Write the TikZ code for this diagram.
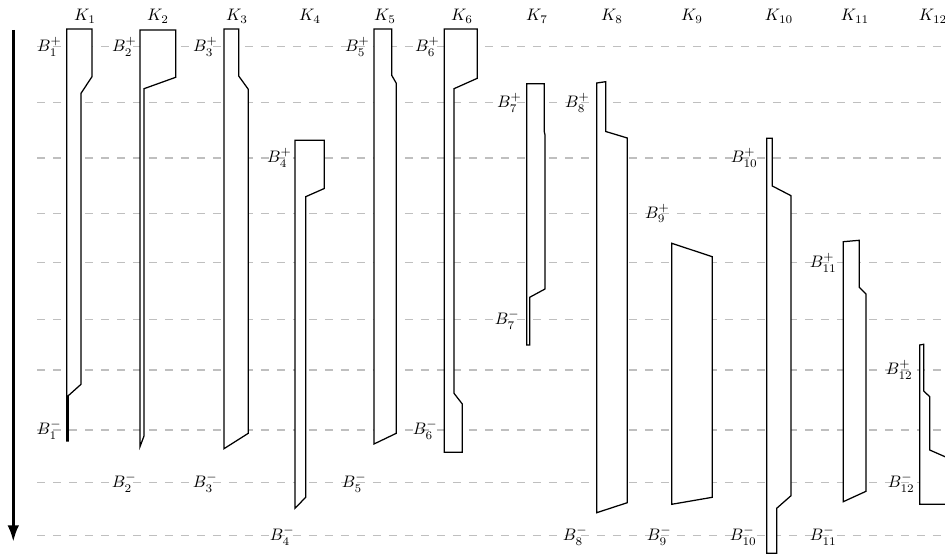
\documentclass[tikz,border=0pt]{standalone}
\usepackage{amsmath, amssymb}
\usetikzlibrary{arrows.meta}

\begin{document}
\begin{tikzpicture}[x=0.6pt, y=-0.6pt, >=Latex,
  level/.style={black!25, line width=0.9pt, dash pattern=on 5pt off 4.6pt},
  piece/.style={draw, fill=white, line width=0.75pt, line join=miter},
  blab/.style={anchor=east, inner sep=0pt}]
  \useasboundingbox (0,0) rectangle (945,554);
  % levels
  \foreach \y in {46.7,102.7,158,213.3,262.7,319.7,370,430,482.7,535.7}
    \draw[level] (37,\y) -- (965,\y);
  % time axis
  \coordinate (t0) at (13.3,30);
  \coordinate (t1) at (13.3,542);
  \draw[-{Latex[length=10pt,width=7pt]}, line width=1.8pt] (t0) -- (t1);
  % column heads
  \foreach \x [count=\i] in {85,158,237,310,385,462,537,612,692,779,855,933}
    \node[anchor=base] (K\i) at (\x,20.7) {$K_{\i}$};
  % pieces
  \draw[piece] (66.7,29) -- (92,29) -- (92,76.7) -- (81,93.3) -- (81,384.3) -- (68.3,395.7) -- (68.3,441) -- (66.7,441) -- cycle;
  \draw[piece] (140,30) -- (175.7,30) -- (175.7,77.3) -- (144,88.7) -- (144,436) -- (140,446.7) -- cycle;
  \draw[piece] (224,29) -- (238.7,29) -- (238.7,76) -- (248.3,89.3) -- (248.3,433.3) -- (224,448.7) -- cycle;
  \draw[piece] (295,140.3) -- (324.3,140.3) -- (324.3,188.5) -- (305.7,196.7) -- (305.7,497.3) -- (295,508.3) -- cycle;
  \draw[piece] (374,29) -- (391.7,29) -- (391.7,75.3) -- (396.3,83.3) -- (396.3,433.3) -- (374,444) -- cycle;
  \draw[piece] (444.3,29) -- (477.3,29) -- (477.3,78.3) -- (454,88.7) -- (454,393.3) -- (462.3,404) -- (462.3,452.3) -- (444.3,452.3) -- cycle;
  \draw[piece] (526.7,83.7) -- (544.3,83.7) -- (544.3,131.7) -- (545,135) -- (545,289) -- (529.7,297.3) -- (529.7,345) -- (526.7,345) -- cycle;
  \draw[piece] (596.7,83) -- (605.7,81.7) -- (605.7,131.5) -- (627.3,138) -- (627.3,502.7) -- (596.7,512.7) -- cycle;
  \draw[piece] (671.7,243.3) -- (712.3,256.7) -- (712.3,497.3) -- (671.7,504.3) -- cycle;
  \draw[piece] (766.7,138.3) -- (772.3,138.3) -- (772.3,186) -- (791,195.7) -- (791,495.7) -- (776.7,508.3) -- (776.7,553.3) -- (766.7,553.3) -- cycle;
  \draw[piece] (843.3,241.7) -- (859.3,240.3) -- (859.3,287.3) -- (866,294) -- (866,491.3) -- (843.3,501.7) -- cycle;
  \draw[piece] (919.7,345) -- (923.7,344.3) -- (923.7,391) -- (929.7,396.7) -- (929.7,450) -- (960,463.3) -- (960,504.3) -- (919.7,504.3) -- cycle;
  % bounds
  \node[blab] (B1p) at (62,46.7) {$B_1^+$};
  \node[blab] (B2p) at (137,46.7) {$B_2^+$};
  \node[blab] (B3p) at (218,46.7) {$B_3^+$};
  \node[blab] (B4p) at (292,158) {$B_4^+$};
  \node[blab] (B5p) at (370,46.7) {$B_5^+$};
  \node[blab] (B6p) at (440,46.7) {$B_6^+$};
  \node[blab] (B7p) at (522,102.7) {$B_7^+$};
  \node[blab] (B8p) at (590,102.7) {$B_8^+$};
  \node[blab] (B9p) at (670,213.3) {$B_9^+$};
  \node[blab] (B10p) at (758,158) {$B_{10}^+$};
  \node[blab] (B11p) at (837,262.7) {$B_{11}^+$};
  \node[blab] (B12p) at (913,370) {$B_{12}^+$};
  \node[blab] (B1m) at (62,430) {$B_1^-$};
  \node[blab] (B2m) at (137,482.7) {$B_2^-$};
  \node[blab] (B3m) at (218,482.7) {$B_3^-$};
  \node[blab] (B4m) at (295,535.7) {$B_4^-$};
  \node[blab] (B5m) at (367,482.7) {$B_5^-$};
  \node[blab] (B6m) at (438,430) {$B_6^-$};
  \node[blab] (B7m) at (520,319.7) {$B_7^-$};
  \node[blab] (B8m) at (588,535.7) {$B_8^-$};
  \node[blab] (B9m) at (672,535.7) {$B_9^-$};
  \node[blab] (B10m) at (757,535.7) {$B_{10}^-$};
  \node[blab] (B11m) at (837,535.7) {$B_{11}^-$};
  \node[blab] (B12m) at (915,482.7) {$B_{12}^-$};
\end{tikzpicture}
\end{document}
